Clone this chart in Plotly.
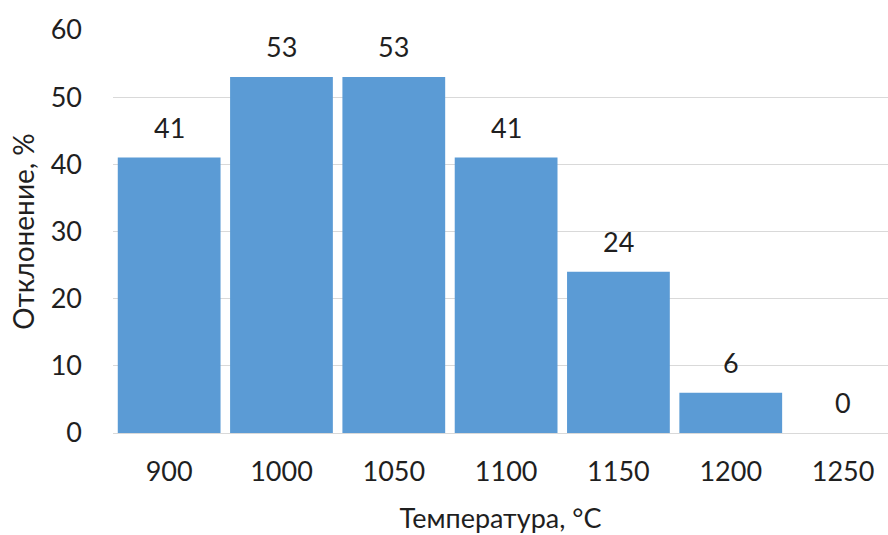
import plotly.graph_objects as go

# Temperature categories and deviation values
temperatures = ["900", "1000", "1050", "1100", "1150", "1200", "1250"]
deviation = [41, 53, 53, 41, 24, 6, 0]
y_ticks = [0, 10, 20, 30, 40, 50, 60]

FONT = "Lato, Carlito, 'Liberation Sans', sans-serif"
TEXT = "#1f1f1f"
SIZE = 27

fig = go.Figure(
    go.Bar(
        x=temperatures,
        y=deviation,
        marker=dict(color="#5B9BD5", line=dict(width=0)),
        hoverinfo="x+y",
    )
)

# Value labels sitting a little above each bar (category index positions)
for idx, val in enumerate(deviation):
    fig.add_annotation(
        x=idx,
        y=val,
        xref="x",
        yref="y",
        text=str(val),
        showarrow=False,
        yanchor="bottom",
        yshift=12,
        font=dict(family=FONT, size=SIZE, color=TEXT),
    )

fig.update_layout(
    width=888,
    height=535,
    margin=dict(l=113, r=0, t=30, b=102),
    paper_bgcolor="white",
    plot_bgcolor="white",
    bargap=0.085,
    showlegend=False,
    font=dict(family=FONT, color=TEXT),
)

fig.update_xaxes(
    type="category",
    range=[-0.5, 6.4],
    showgrid=False,
    showline=False,
    ticks="",
    tickfont=dict(family=FONT, size=SIZE, color=TEXT),
    ticklabelstandoff=20,
    title=dict(text="Температура, °C", font=dict(family=FONT, size=27, color=TEXT), standoff=23),
)

fig.update_yaxes(
    range=[0, 60],
    tickvals=y_ticks,
    showgrid=True,
    gridcolor="#D9D9D9",
    gridwidth=1,
    zeroline=True,
    zerolinecolor="#D9D9D9",
    zerolinewidth=1,
    showline=False,
    ticks="",
    tickfont=dict(family=FONT, size=SIZE, color=TEXT),
    ticklabelstandoff=30,
    title=dict(text="Отклонение, %", font=dict(family=FONT, size=28, color=TEXT), standoff=7),
)

fig.write_html("out.html")
